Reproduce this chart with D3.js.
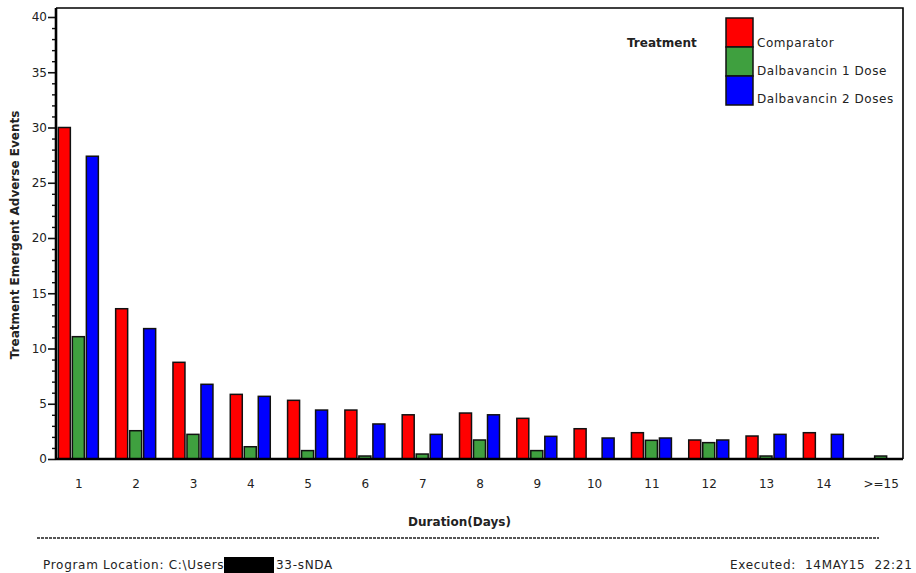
<!DOCTYPE html>
<html>
<head>
<meta charset="utf-8">
<script src="https://cdn.jsdelivr.net/npm/d3@7/dist/d3.min.js"></script>
<style>
  html, body { margin: 0; padding: 0; background: #fff; }
  svg { display: block; }
  text { font-family: "DejaVu Sans", sans-serif; fill: #222; }
</style>
</head>
<body>
<svg id="chart" width="916" height="573"></svg>
<script>
// Duration categories (days) on the x axis
const categories = ["1", "2", "3", "4", "5", "6", "7", "8", "9", "10", "11", "12", "13", "14", ">=15"];

// Treatment emergent adverse events per duration category (null = no bar)
const comparator = [30.0, 13.6, 8.75, 5.85, 5.31, 4.43, 4.0, 4.16, 3.68, 2.74, 2.38, 1.72, 2.08, 2.38, null];
const dalba1Dose = [11.07, 2.56, 2.23, 1.11, 0.76, 0.27, 0.45, 1.72, 0.76, null, 1.69, 1.48, 0.27, null, 0.27];
const dalba2Doses = [27.4, 11.8, 6.76, 5.67, 4.43, 3.17, 2.23, 4.0, 2.05, 1.9, 1.9, 1.72, 2.23, 2.23, null];

const seriesNames = ["Comparator", "Dalbavancin 1 Dose", "Dalbavancin 2 Doses"];
const seriesColors = ["#ff0000", "#3fa03f", "#0000ff"];

const yMajorTicks = [0, 5, 10, 15, 20, 25, 30, 35, 40];
const yMinorTicks = d3.range(0, 41).filter(v => v % 5 !== 0);

const seriesValues = [comparator, dalba1Dose, dalba2Doses];

const svg = d3.select("#chart");

// Plot frame
const frame = { left: 56, right: 903, top: 8, bottom: 459 };

const x = d3.scalePoint()
  .domain(categories)
  .range([frame.left, frame.right])
  .padding(0.39);

const inner = d3.scaleBand()
  .domain(seriesNames)
  .range([-21, 21]);

const y = d3.scaleLinear()
  .domain([0, 40])
  .range([frame.bottom, 17]);

// Frame lines on top and right
svg.append("path")
  .attr("d", `M${frame.left},${frame.top}H${frame.right}V${frame.bottom}`)
  .attr("fill", "none")
  .attr("stroke", "#000")
  .attr("stroke-width", 1.6);

// Bars
const barData = [];
categories.forEach((c, i) => {
  seriesNames.forEach((s, j) => {
    const v = seriesValues[j][i];
    if (v !== null) barData.push({ cat: c, series: s, value: v, color: seriesColors[j] });
  });
});

const barW = inner.bandwidth() - 2;
svg.append("g")
  .selectAll("rect")
  .data(barData)
  .join("rect")
  .attr("x", d => x(d.cat) + inner(d.series) + 1)
  .attr("y", d => y(d.value))
  .attr("width", barW)
  .attr("height", d => y(0) - y(d.value))
  .attr("fill", d => d.color)
  .attr("stroke", "#111")
  .attr("stroke-width", 1.5);

// Y axis: major ticks with labels
const yAxis = svg.append("g")
  .attr("transform", `translate(${frame.left},0)`)
  .call(d3.axisLeft(y).tickValues(yMajorTicks).tickSize(8).tickPadding(1).tickSizeOuter(0));
yAxis.select(".domain").remove();
yAxis.selectAll(".tick line").attr("stroke", "#111").attr("stroke-width", 1.6);
yAxis.selectAll(".tick text")
  .style("font-family", "DejaVu Sans, sans-serif")
  .style("font-size", "12px")
  .attr("fill", "#333");

// Y axis: minor ticks
const yMinor = svg.append("g")
  .attr("transform", `translate(${frame.left},0)`)
  .call(d3.axisLeft(y).tickValues(yMinorTicks).tickSize(4).tickFormat(""));
yMinor.select(".domain").remove();
yMinor.selectAll(".tick line").attr("stroke", "#111").attr("stroke-width", 1.4);

// Axis lines
svg.append("line")
  .attr("x1", frame.left).attr("x2", frame.left)
  .attr("y1", frame.top).attr("y2", frame.bottom + 1)
  .attr("stroke", "#000").attr("stroke-width", 2.6);
svg.append("line")
  .attr("x1", frame.left).attr("x2", frame.right)
  .attr("y1", frame.bottom).attr("y2", frame.bottom)
  .attr("stroke", "#000").attr("stroke-width", 2.6);

// X axis labels
const xAxis = svg.append("g")
  .attr("transform", `translate(0,${frame.bottom})`)
  .call(d3.axisBottom(x).tickSize(0).tickPadding(20));
xAxis.select(".domain").remove();
xAxis.selectAll(".tick text")
  .style("font-family", "DejaVu Sans, sans-serif")
  .style("font-size", "12px")
  .attr("fill", "#333");

// Axis titles
svg.append("text")
  .attr("x", (frame.left + frame.right) / 2 - 20)
  .attr("y", 526)
  .attr("text-anchor", "middle")
  .style("font-size", "12px")
  .style("font-weight", "bold")
  .text("Duration(Days)");

svg.append("text")
  .attr("transform", "translate(19,235) rotate(-90)")
  .attr("text-anchor", "middle")
  .style("font-size", "12px")
  .style("font-weight", "bold")
  .text("Treatment Emergent Adverse Events");

// Legend
const legend = svg.append("g");
legend.append("text")
  .attr("x", 627).attr("y", 47)
  .style("font-size", "12px")
  .style("font-weight", "bold")
  .text("Treatment");
seriesNames.forEach((s, j) => {
  legend.append("rect")
    .attr("x", 726).attr("y", 18 + j * 29)
    .attr("width", 27).attr("height", 29)
    .attr("fill", seriesColors[j])
    .attr("stroke", "#111").attr("stroke-width", 1.5);
  legend.append("text")
    .attr("x", 757).attr("y", 47 + j * 28)
    .style("font-size", "12px")
    .style("letter-spacing", "0.55px")
    .text(s);
});

// Footer separator and program notes
svg.append("line")
  .attr("x1", 37).attr("x2", 879)
  .attr("y1", 538).attr("y2", 538)
  .attr("stroke", "#555").attr("stroke-width", 2)
  .attr("stroke-dasharray", "3,1");

const footer = svg.append("g")
  .style("font-size", "12px")
  .style("letter-spacing", "0.7px");
footer.append("text")
  .attr("x", 43).attr("y", 569)
  .text("Program Location: C:\\Users");
footer.append("rect")
  .attr("x", 224).attr("y", 557)
  .attr("width", 50).attr("height", 16)
  .attr("fill", "#000");
footer.append("text")
  .attr("x", 276).attr("y", 569)
  .text("33-sNDA");
footer.append("text")
  .attr("x", 730).attr("y", 569)
  .style("white-space", "pre")
  .text("Executed:  14MAY15  22:21");
</script>
</body>
</html>
